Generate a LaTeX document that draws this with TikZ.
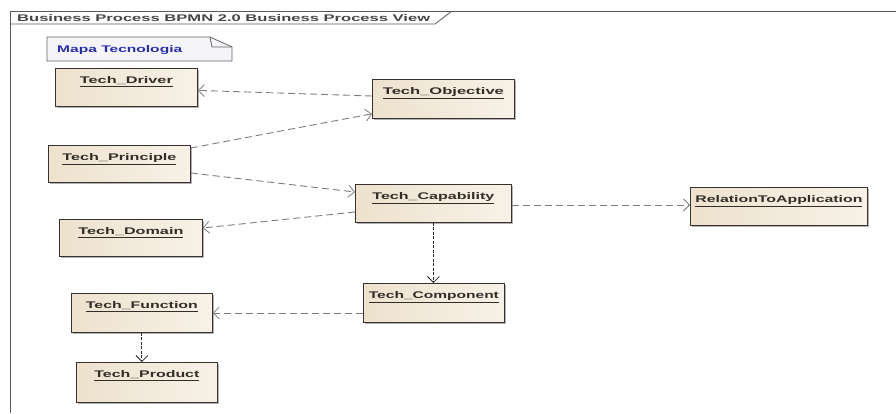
\documentclass[tikz,border=0pt]{standalone}
\usepackage{fontspec}
\setmainfont{Liberation Sans}
\usetikzlibrary{arrows.meta,calc,shadows}
\definecolor{boxfill}{RGB}{238,226,206}
\definecolor{boxfillr}{RGB}{247,241,231}
\definecolor{boxline}{RGB}{55,50,45}
\definecolor{conn}{RGB}{125,125,125}
\definecolor{notefill}{RGB}{245,245,249}
\definecolor{noteblue}{RGB}{40,45,170}
\definecolor{titlegray}{RGB}{70,70,70}
\definecolor{boxtext}{RGB}{50,45,40}
\newcommand\lbl[2]{\resizebox{#1pt}{7pt}{\bfseries\underline{#2}}}
\tikzset{
  umlbox/.style={draw=boxline, line width=0.8pt, left color=boxfill, right color=boxfillr,
    inner sep=0pt, anchor=north west, text height=15.5pt, text=boxtext,
    drop shadow={shadow xshift=1.3pt, shadow yshift=-1.3pt, opacity=0.3, fill=black}},
  dep/.style={draw=conn, line width=0.9pt, dash pattern=on 7pt off 4pt,
    -{Straight Barb[length=6pt,width=12pt,line width=0.8pt]}},
  depdot/.style={draw=black!85, line width=1pt, dash pattern=on 3pt off 1.5pt,
    -{Straight Barb[length=6pt,width=12pt,line width=0.8pt]}},
  frameline/.style={draw=black!65, line width=0.8pt}
}
\begin{document}
\begin{tikzpicture}[x=1pt,y=-1pt]
\useasboundingbox (0,0) rectangle (896,413);
\fill[white] (0,0) rectangle (896,413);
% frame
\draw[frameline] (10,413) -- (10,11) -- (896,11);
\draw[frameline] (10,24) -- (435,24) -- (452,11);
\node[anchor=base west, inner sep=0pt, text=titlegray] (title) at (17,21.5)
  {\resizebox{413pt}{7pt}{\bfseries Business Process BPMN 2.0 Business Process View}};
% note
\draw[draw=black!60, line width=0.8pt, fill=notefill]
  (47,37) -- (210,37) -- (232,47) -- (232,61) -- (47,61) -- cycle;
\draw[draw=black!60, line width=0.8pt] (210,37) -- (212,47) -- (232,47);
\node[anchor=base west, inner sep=0pt, text=noteblue] (note) at (57,52)
  {\resizebox{125pt}{7pt}{\bfseries Mapa Tecnologia}};
% boxes
\node[umlbox, minimum width=142pt, text depth=22.5pt] (drv) at (55,68) {\lbl{93}{Tech\_Driver}};
\node[umlbox, minimum width=142pt, text depth=23.5pt] (obj) at (372,79) {\lbl{121}{Tech\_Objective}};
\node[umlbox, minimum width=142pt, text depth=21.5pt] (pri) at (48,145) {\lbl{114}{Tech\_Principle}};
\node[umlbox, minimum width=143pt, text depth=21.5pt] (dom) at (59,219) {\lbl{105}{Tech\_Domain}};
\node[umlbox, minimum width=156pt, text depth=22.5pt] (cap) at (355,184) {\lbl{122}{Tech\_Capability}};
\node[umlbox, minimum width=177pt, text depth=22.5pt] (rel) at (690,187) {\lbl{167}{RelationToApplication}};
\node[umlbox, minimum width=141pt, text depth=23.5pt] (fun) at (71,293) {\lbl{112}{Tech\_Function}};
\node[umlbox, minimum width=141pt, text depth=24.5pt] (prd) at (76,362) {\lbl{105}{Tech\_Product}};
\node[umlbox, minimum width=141pt, text depth=23.5pt] (cmp) at (363,283) {\lbl{130}{Tech\_Component}};
% connectors
\draw[dep] ($(obj.north west)+(0,17)$) -- ($(drv.east)+(0,3)$);
\draw[dep] ($(pri.north east)+(0,3)$) -- ($(obj.south west)+(0,-5)$);
\draw[dep] ($(pri.north east)+(0,28)$) -- ($(cap.north west)+(0,8)$);
\draw[dep] ($(cap.north west)+(0,28)$) -- ($(dom.north east)+(0,9)$);
\draw[dep] ($(cap.north east)+(0,21)$) -- ($(rel.north west)+(0,18)$);
\draw[depdot] (cap.south) -- (cap.south |- cmp.north);
\draw[dep] ($(cmp.north west)+(0,30)$) -- ($(fun.north east)+(0,20)$);
\draw[depdot] (fun.south) -- (fun.south |- prd.north);
\end{tikzpicture}
\end{document}
